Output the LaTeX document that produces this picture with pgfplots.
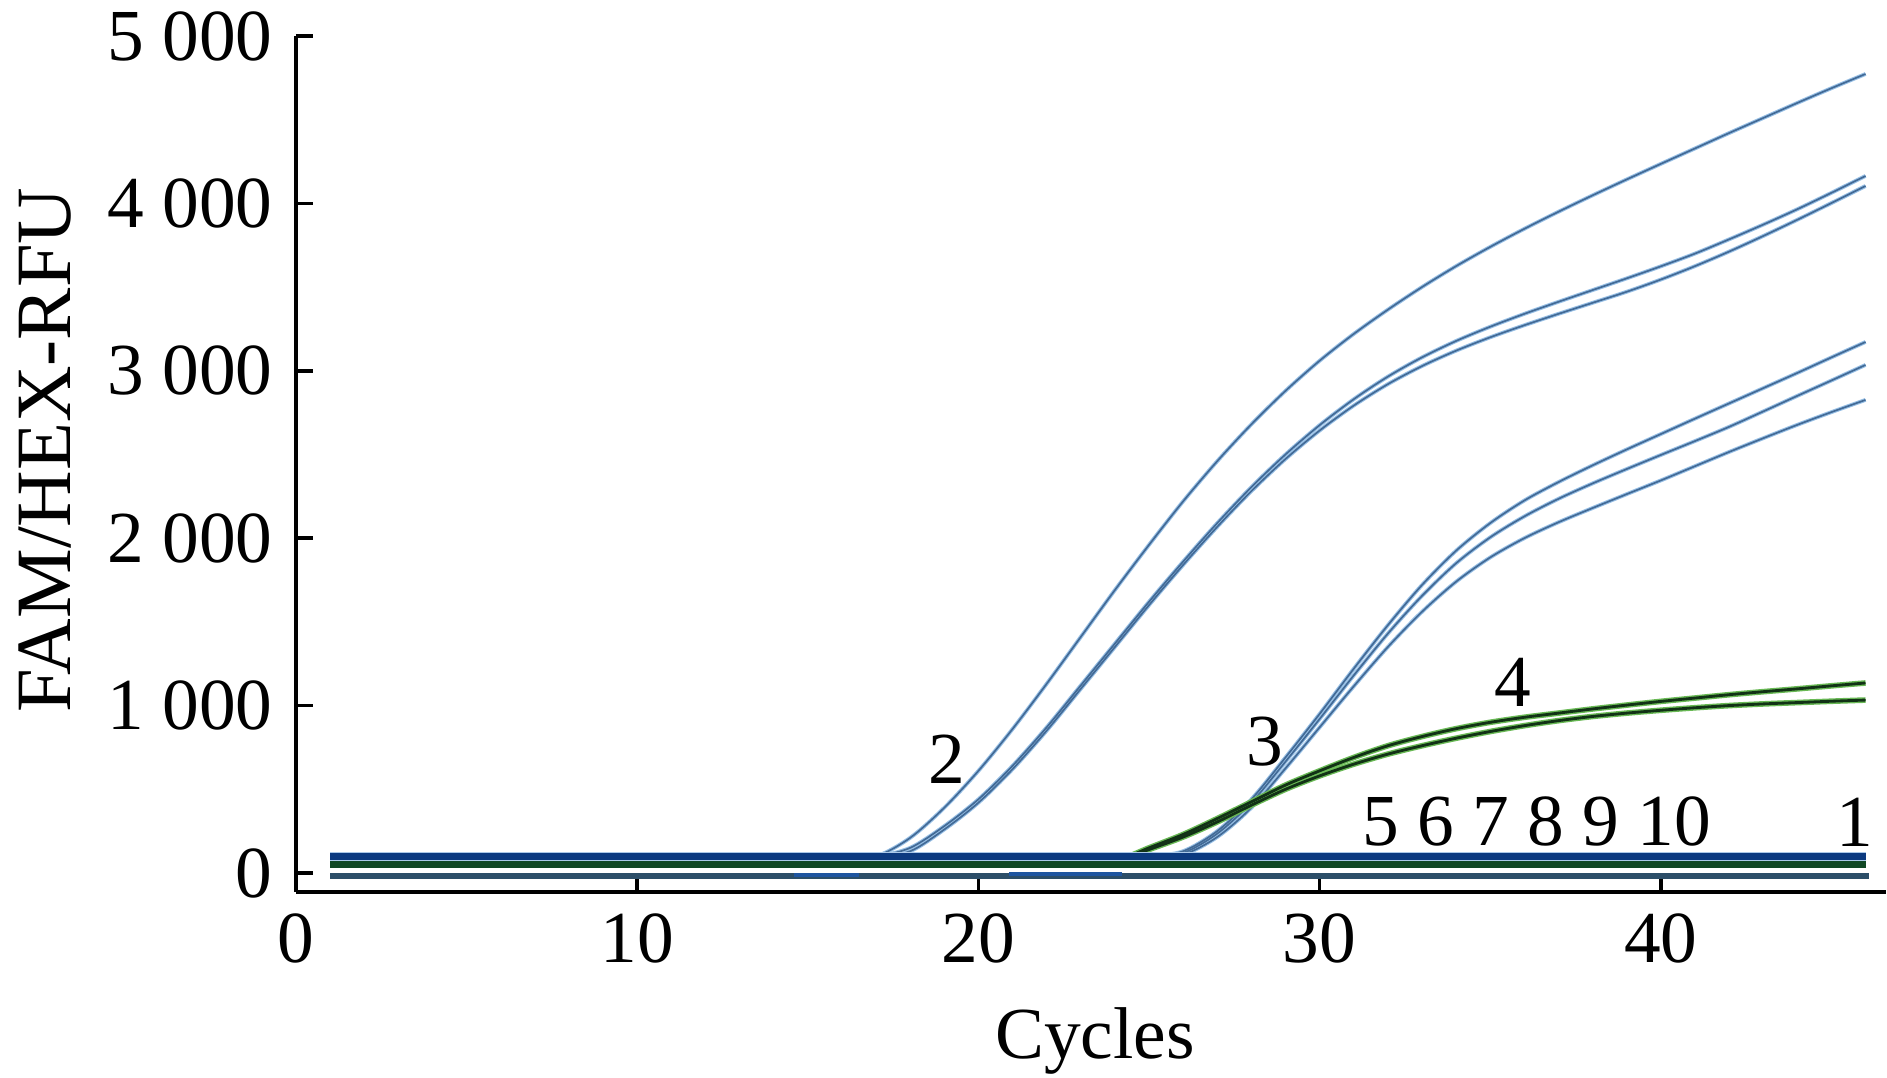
\documentclass[border=0pt]{standalone}
\usepackage{pgfplots}
\pgfplotsset{compat=1.18}
\usepackage{pgfplotstable}
\usepackage{fontspec}
\setmainfont{Liberation Serif}
\definecolor{curveblue}{RGB}{66,106,150}
\definecolor{curveblueedge}{RGB}{150,190,228}
\definecolor{curvegreen}{RGB}{18,50,22}
\definecolor{curvegreenedge}{RGB}{105,185,85}
\definecolor{bandblue}{RGB}{12,58,128}
\definecolor{bandblueedge}{RGB}{170,200,232}
\definecolor{bandgreen}{RGB}{16,72,36}
\definecolor{bandlow}{RGB}{44,78,104}
\definecolor{bandbright}{RGB}{30,85,160}

\pgfplotstableread{
c   a2   b2   c2   a3   b3   c3   a4   b4
1   100  100  100  100  100  100  55   55
5   100  100  100  100  100  100  55   55
10  100  100  100  100  100  100  55   55
15  100  100  100  100  100  100  55   55
16  100  100  100  100  100  100  55   55
17  100  100  100  100  100  100  55   55
18  210  150  130  100  100  100  55   55
19  390  280  260  100  100  100  55   55
20  610  440  420  100  100  100  55   55
21  860  640  620  100  100  100  55   55
22  1130 870  850  100  100  100  55   55
23  1410 1120 1100 100  100  100  55   55
24  1690 1370 1350 100  100  100  70   65
25  1960 1620 1600 100  100  100  150  140
26  2220 1860 1840 130  120  110  230  215
27  2460 2090 2068 250  235  215  325  305
28  2680 2305 2281 440  420  390  425  405
29  2880 2500 2473 690  665  625  525  500
30  3060 2675 2643 950  920  870  610  580
31  3220 2830 2792 1220 1180 1115 690  650
32  3365 2965 2920 1480 1430 1350 760  710
33  3500 3080 3028 1720 1655 1560 815  760
34  3625 3178 3120 1925 1850 1740 862  805
35  3740 3263 3200 2090 2005 1885 900  845
36  3848 3340 3272 2225 2130 2000 930  880
37  3950 3412 3340 2335 2235 2095 955  910
38  4048 3482 3406 2435 2327 2180 980  935
39  4143 3552 3472 2530 2413 2263 1003 955
40  4236 3624 3545 2622 2497 2345 1025 972
41  4328 3700 3625 2714 2580 2430 1045 987
42  4420 3785 3712 2805 2665 2515 1065 1000
43  4510 3873 3805 2896 2757 2597 1083 1010
44  4600 3965 3902 2987 2850 2677 1100 1018
45  4688 4063 4002 3080 2942 2753 1118 1026
46  4773 4164 4104 3172 3035 2826 1135 1033
}\curves

\begin{document}
\begin{tikzpicture}
\begin{axis}[
  scale only axis,
  width=477pt, height=256.8pt,
  xmin=0, xmax=46.6, ymin=-113.5, ymax=5000,
  axis lines*=left,
  axis line style={-, line width=1.1pt, black},
  tick style={line width=1.1pt, black},
  major tick length=5.1pt,
  tick align=inside,
  xtick={0,10,20,30,40},
  ytick={0,1000,2000,3000,4000,5000},
  scaled y ticks=false,
  scaled x ticks=false,
  /pgf/number format/1000 sep={\hspace{0.25em}},
  /pgf/number format/assume math mode=true,
  ticklabel style={font=\fontsize{22}{26}\selectfont},
  yticklabel style={xshift=-3.5pt},
  xticklabel style={yshift=-3pt},
  xlabel={Cycles},
  ylabel={FAM/HEX-RFU},
  xlabel style={font=\fontsize{22}{26}\selectfont, at={(axis description cs:0.5025,-0.194)}, anchor=base},
  ylabel style={font=\fontsize{23.5}{28}\selectfont, at={(axis description cs:-0.158,0.516)}, anchor=center},
  clip=false,
  ebl/.style={curveblueedge, line width=1.15pt, smooth, no markers},
  dbl/.style={curveblue, line width=0.5pt, smooth, no markers},
  egr/.style={curvegreenedge, line width=1.7pt, smooth, no markers},
  dgr/.style={curvegreen, line width=0.85pt, smooth, no markers},
]
% positive curves, groups 2 and 3 (blue)
\addplot[ebl] table[x=c,y=a2] {\curves};
\addplot[ebl] table[x=c,y=b2] {\curves};
\addplot[ebl] table[x=c,y=c2] {\curves};
\addplot[ebl] table[x=c,y=a3] {\curves};
\addplot[ebl] table[x=c,y=b3] {\curves};
\addplot[ebl] table[x=c,y=c3] {\curves};
\addplot[dbl] table[x=c,y=a2] {\curves};
\addplot[dbl] table[x=c,y=b2] {\curves};
\addplot[dbl] table[x=c,y=c2] {\curves};
\addplot[dbl] table[x=c,y=a3] {\curves};
\addplot[dbl] table[x=c,y=b3] {\curves};
\addplot[dbl] table[x=c,y=c3] {\curves};
% group 4 (green)
\addplot[egr] table[x=c,y=a4] {\curves};
\addplot[egr] table[x=c,y=b4] {\curves};
\addplot[dgr] table[x=c,y=a4] {\curves};
\addplot[dgr] table[x=c,y=b4] {\curves};
% negative controls: baseline bands
\addplot[bandlow, line width=1.9pt, no markers] coordinates {(1,-18) (46.1,-18)};
\addplot[bandbright, line width=1.2pt, no markers] coordinates {(14.6,-10) (16.5,-10)};
\addplot[bandbright, line width=1.2pt, no markers] coordinates {(20.9,-8) (24.2,-8)};
\addplot[bandgreen, line width=2.5pt, no markers] coordinates {(1,54) (46,54)};
\addplot[bandblueedge, line width=2.7pt, no markers] coordinates {(1,101) (46,101)};
\addplot[bandblue, line width=2.0pt, no markers] coordinates {(1,100) (46,100)};
% curve labels
\node[font=\fontsize{22}{26}\selectfont] at (axis cs:19.08,681) {2};
\node[font=\fontsize{22}{26}\selectfont] at (axis cs:28.4,783) {3};
\node[font=\fontsize{22}{26}\selectfont] at (axis cs:35.67,1141) {4};
\node[font=\fontsize{22}{26}\selectfont] at (axis cs:36.37,305) {5 6 7 8 9 10};
\node[font=\fontsize{22}{26}\selectfont] at (axis cs:45.7,305) {1};
\end{axis}
\pgfresetboundingbox
\path[use as bounding box] ([shift={(-88.8pt,-55.8pt)}]current axis.south west) rectangle ++(566.1pt,323.4pt);
\end{tikzpicture}
\end{document}
